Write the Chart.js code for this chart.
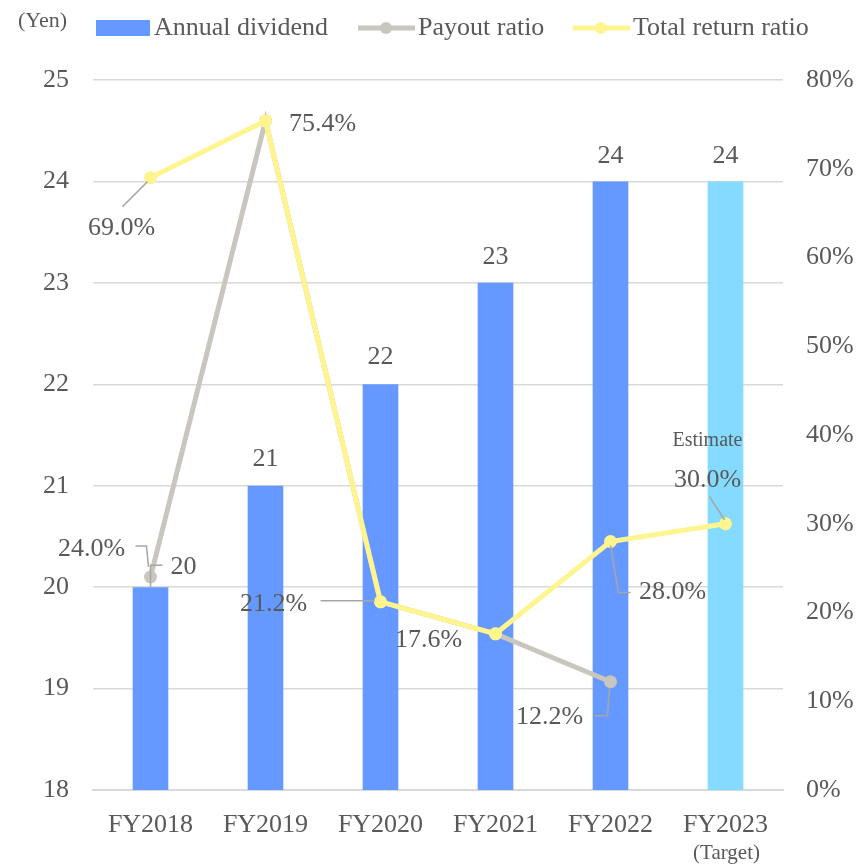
<!DOCTYPE html>
<html>
<head>
<meta charset="utf-8">
<title>Annual dividend and return ratios</title>
<script src="https://cdn.jsdelivr.net/npm/chart.js@4.4.0/dist/chart.umd.min.js"></script>
<style>
  html, body { margin: 0; padding: 0; background: #fff; }
  #wrap { width: 860px; height: 866px; }
</style>
</head>
<body>
<div id="wrap"><canvas id="dividendChart" width="860" height="866"></canvas></div>
<script>
// chart data
const categories = ['FY2018', 'FY2019', 'FY2020', 'FY2021', 'FY2022', 'FY2023'];
const dividends = [20, 21, 22, 23, 24, 24];
const payoutRatio = [24.0, 75.4, 21.2, 17.6, 12.2, null];
const totalReturnRatio = [69.0, 75.4, 21.2, 17.6, 28.0, 30.0];
const yenTicks = [18, 19, 20, 21, 22, 23, 24, 25];
const pctTicks = [0, 10, 20, 30, 40, 50, 60, 70, 80];
const yenUnit = '(Yen)';
const targetNote = '(Target)';
const estimateNote = 'Estimate';

const FONT = '"Liberation Serif", "Times New Roman", serif';
const TEXT = '#595959';
const BLUE = '#6699FF';
const LIGHT_BLUE = '#85DBFF';
const GRAY = '#C9C6BE';
const YELLOW = '#FFF58F';
const LEADER = '#A6A6A6';

// label placement: offsets from the mark (text centre) plus optional leader path
const labelLayout = [
    { set: 0, i: 0, dx: 33, dy: -20, leader: [[0, 0], [0, -22], [12, -22]] },
    { set: 0, i: 1, dx: 0, dy: -27 },
    { set: 0, i: 2, dx: 0, dy: -27 },
    { set: 0, i: 3, dx: 0, dy: -26 },
    { set: 0, i: 4, dx: 0, dy: -25 },
    { set: 0, i: 5, dx: 0, dy: -25 },
    { set: 1, i: 0, dx: -59, dy: -28, leader: [[-15, -31], [-4, -31], [-2, -10]] },
    { set: 1, i: 4, dx: -61, dy: 35, leader: [[-16, 34], [-3, 34], [-1, 6]] },
    { set: 2, i: 0, dx: -29, dy: 51, leader: [[-28, 29], [-3, 4]] },
    { set: 2, i: 1, dx: 57, dy: 3 },
    { set: 2, i: 2, dx: -107, dy: 2, leader: [[-60, -1], [-6, -1]] },
    { set: 2, i: 3, dx: -67, dy: 6 },
    { set: 2, i: 4, dx: 62, dy: 51, leader: [[0, 4], [8, 51], [20, 51]] },
    { set: 2, i: 5, dx: -18, dy: -44, leader: [[-16, -27], [-1, -4]], note: estimateNote }
];

function drawLeader(ctx, x, y, pts) {
    ctx.save();
    ctx.strokeStyle = LEADER;
    ctx.lineWidth = 1.5;
    ctx.beginPath();
    pts.forEach((p, k) => {
        if (k === 0) ctx.moveTo(x + p[0], y + p[1]);
        else ctx.lineTo(x + p[0], y + p[1]);
    });
    ctx.stroke();
    ctx.restore();
}

const labelPlugin = {
    id: 'labelPlugin',
    afterDatasetsDraw(chart) {
        const ctx = chart.ctx;
        ctx.save();
        ctx.fillStyle = TEXT;
        ctx.textAlign = 'center';
        ctx.textBaseline = 'middle';
        labelLayout.forEach(l => {
            const ds = chart.data.datasets[l.set];
            const el = chart.getDatasetMeta(l.set).data[l.i];
            const v = ds.data[l.i];
            if (!el || v === null) return;
            const x = el.x, y = el.y;
            if (l.leader) drawLeader(ctx, x, y, l.leader);
            const txt = l.set === 0 ? String(v) : v.toFixed(1) + '%';
            ctx.fillStyle = TEXT;
            ctx.font = '26px ' + FONT;
            ctx.fillText(txt, x + l.dx, y + l.dy);
            if (l.note) {
                ctx.font = '20px ' + FONT;
                ctx.fillText(l.note, x + l.dx, y + l.dy - 39);
            }
        });
        ctx.restore();
    },
    afterDraw(chart) {
        const ctx = chart.ctx;
        ctx.save();
        ctx.fillStyle = TEXT;
        ctx.textBaseline = 'middle';
        // unit
        ctx.font = '22px ' + FONT;
        ctx.textAlign = 'left';
        ctx.fillText(yenUnit, 18, 21);
        // legend
        const ly = 28;
        ctx.font = '26px ' + FONT;
        const ds = chart.data.datasets;
        ctx.fillStyle = BLUE;
        ctx.fillRect(96, ly - 8, 54, 16);
        ctx.fillStyle = TEXT;
        ctx.fillText(ds[0].label, 154, ly);
        [[ds[1], 358, GRAY], [ds[2], 573, YELLOW]].forEach(([d, x0, c]) => {
            ctx.strokeStyle = c;
            ctx.lineWidth = 5;
            ctx.beginPath();
            ctx.moveTo(x0, ly);
            ctx.lineTo(x0 + 57, ly);
            ctx.stroke();
            ctx.fillStyle = c;
            ctx.beginPath();
            ctx.arc(x0 + 28, ly, 6, 0, Math.PI * 2);
            ctx.fill();
            ctx.fillStyle = TEXT;
            ctx.fillText(d.label, x0 + 60, ly);
        });
        // note under last category
        const xs = chart.scales.x;
        ctx.font = '21px ' + FONT;
        ctx.textAlign = 'center';
        ctx.fillText(targetNote, xs.getPixelForValue(categories.length - 1) + 1, 853);
        ctx.restore();
    }
};

function initializeChart() {
    const ctx = document.getElementById('dividendChart').getContext('2d');
    new Chart(ctx, {
        type: 'bar',
        data: {
            labels: categories,
            datasets: [
                {
                    type: 'bar',
                    label: 'Annual dividend',
                    data: dividends,
                    yAxisID: 'y',
                    backgroundColor: dividends.map((v, i) => i === dividends.length - 1 ? LIGHT_BLUE : BLUE),
                    barPercentage: 0.31,
                    categoryPercentage: 1,
                    order: 3
                },
                {
                    type: 'line',
                    label: 'Payout ratio',
                    data: payoutRatio,
                    yAxisID: 'y1',
                    borderColor: GRAY,
                    backgroundColor: GRAY,
                    borderWidth: 5,
                    pointRadius: 6.5,
                    pointBorderWidth: 0,
                    tension: 0,
                    order: 2
                },
                {
                    type: 'line',
                    label: 'Total return ratio',
                    data: totalReturnRatio,
                    yAxisID: 'y1',
                    borderColor: YELLOW,
                    backgroundColor: YELLOW,
                    borderWidth: 5,
                    pointRadius: 6.5,
                    pointBorderWidth: 0,
                    tension: 0,
                    order: 1
                }
            ]
        },
        options: {
            responsive: false,
            devicePixelRatio: 1,
            animation: false,
            layout: { padding: { top: 80, left: 0, right: 0, bottom: 0 } },
            plugins: {
                legend: { display: false },
                tooltip: { enabled: false }
            },
            scales: {
                x: {
                    grid: { display: false },
                    border: { display: true, color: '#D9D9D9', width: 2 },
                    ticks: { color: TEXT, font: { family: FONT, size: 26 }, padding: 12, maxRotation: 0 },
                    afterFit: s => { s.height = 76; }
                },
                y: {
                    position: 'left',
                    min: yenTicks[0],
                    max: yenTicks[yenTicks.length - 1],
                    afterBuildTicks: s => { s.ticks = yenTicks.map(v => ({ value: v })); },
                    grid: { color: '#D9D9D9', lineWidth: 1.5, drawTicks: false },
                    border: { display: false },
                    ticks: { color: TEXT, font: { family: FONT, size: 26 }, padding: 24 },
                    afterFit: s => { s.width = 93; }
                },
                y1: {
                    position: 'right',
                    min: pctTicks[0],
                    max: pctTicks[pctTicks.length - 1],
                    afterBuildTicks: s => { s.ticks = pctTicks.map(v => ({ value: v })); },
                    grid: { display: false, drawTicks: false },
                    border: { display: false },
                    ticks: { color: TEXT, font: { family: FONT, size: 26 }, padding: 23, callback: v => v + '%' },
                    afterFit: s => { s.width = 77; }
                }
            }
        },
        plugins: [labelPlugin]
    });
}

document.addEventListener('DOMContentLoaded', () => {
    initializeChart();
});
</script>
</body>
</html>
